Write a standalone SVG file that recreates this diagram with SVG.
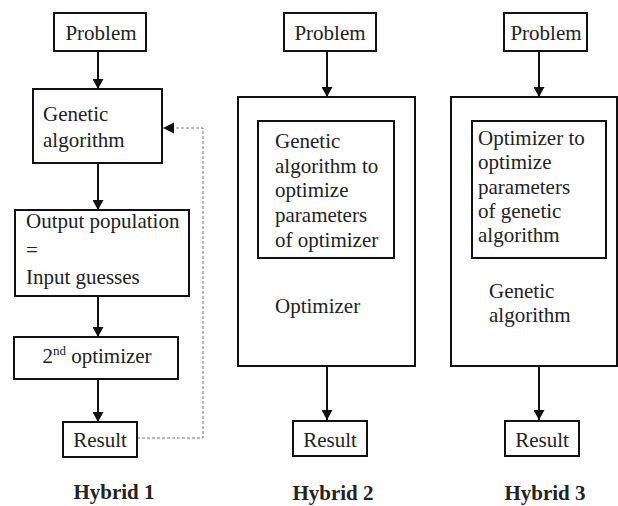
<svg xmlns="http://www.w3.org/2000/svg" width="618" height="506" viewBox="0 0 618 506">
<style>
  .box{fill:#fff;stroke:#111;stroke-width:2}
  .t{font-size:21px;fill:#222}
  .m{text-anchor:middle}
  .b{font-weight:bold;font-size:21px}
  .c{stroke:#111;stroke-width:2;fill:none}
  .d{stroke:#777;stroke-width:1;fill:none;stroke-dasharray:3 2}
</style>
<defs>
  <marker id="ah" markerUnits="userSpaceOnUse" markerWidth="10" markerHeight="11" refX="10" refY="5.5" orient="auto">
    <path d="M0,0 L10,5.5 L0,11 z" fill="#111"/>
  </marker>
</defs>
<rect width="618" height="506" fill="#fff"/>
<g id="connectors">
  <line class="c" x1="98" y1="51" x2="98" y2="89" marker-end="url(#ah)"/>
  <line class="c" x1="98" y1="163" x2="98" y2="210" marker-end="url(#ah)"/>
  <line class="c" x1="98" y1="296" x2="98" y2="337" marker-end="url(#ah)"/>
  <line class="c" x1="98" y1="379" x2="98" y2="422" marker-end="url(#ah)"/>
  <path class="d" d="M137,438 H203 V128 H173"/>
  <path d="M174,122.5 L163,128 L174,133.5 z" fill="#111"/>
  <line class="c" x1="327" y1="51" x2="327" y2="97" marker-end="url(#ah)"/>
  <line class="c" x1="327" y1="366" x2="327" y2="420" marker-end="url(#ah)"/>
  <line class="c" x1="539" y1="51" x2="539" y2="97" marker-end="url(#ah)"/>
  <line class="c" x1="539" y1="366" x2="539" y2="420" marker-end="url(#ah)"/>
</g>
<g font-family="Liberation Serif, Times New Roman, serif">
<g id="h1-problem">
  <rect class="box" x="54" y="13" width="92" height="38"/>
  <text class="t m" x="101" y="40">Problem</text>
</g>
<g id="h1-ga">
  <rect class="box" x="33" y="89" width="129" height="74"/>
  <text class="t" x="43" y="121">Genetic</text>
  <text class="t" x="43" y="147">algorithm</text>
</g>
<g id="h1-output">
  <rect class="box" x="15" y="210" width="174" height="86"/>
  <text class="t" x="26" y="228">Output population</text>
  <text class="t" x="26" y="257">=</text>
  <text class="t" x="26" y="284">Input guesses</text>
</g>
<g id="h1-opt2">
  <rect class="box" x="14" y="337" width="164" height="42"/>
  <text class="t m" x="97" y="363">2<tspan font-size="13" dy="-8">nd</tspan><tspan dy="8"> optimizer</tspan></text>
</g>
<g id="h1-result">
  <rect class="box" x="63" y="422" width="74" height="35"/>
  <text class="t m" x="100" y="447">Result</text>
</g>
<text class="t m b" x="114" y="499">Hybrid 1</text>

<g id="h2-problem">
  <rect class="box" x="284" y="13" width="92" height="38"/>
  <text class="t m" x="330" y="40">Problem</text>
</g>
<g id="h2-optimizer">
  <rect class="box" x="238" y="97" width="177" height="269"/>
  <text class="t" x="275" y="313">Optimizer</text>
</g>
<g id="h2-ga">
  <rect class="box" x="258" y="121" width="136" height="137"/>
  <text class="t" x="275" y="148">Genetic</text>
  <text class="t" x="275" y="173">algorithm to</text>
  <text class="t" x="275" y="197">optimize</text>
  <text class="t" x="275" y="222">parameters</text>
  <text class="t" x="275" y="247">of optimizer</text>
</g>
<g id="h2-result">
  <rect class="box" x="293" y="421" width="74" height="35"/>
  <text class="t m" x="330" y="447">Result</text>
</g>
<text class="t m b" x="333" y="500">Hybrid 2</text>

<g id="h3-problem">
  <rect class="box" x="504" y="13" width="83" height="38"/>
  <text class="t m" x="546" y="40">Problem</text>
</g>
<g id="h3-ga">
  <rect class="box" x="451" y="97" width="166" height="269"/>
  <text class="t" x="489" y="298">Genetic</text>
  <text class="t" x="489" y="322">algorithm</text>
</g>
<g id="h3-optimizer">
  <rect class="box" x="472" y="121" width="134" height="137"/>
  <text class="t" x="478" y="145">Optimizer to</text>
  <text class="t" x="478" y="169">optimize</text>
  <text class="t" x="478" y="194">parameters</text>
  <text class="t" x="478" y="218">of genetic</text>
  <text class="t" x="478" y="242">algorithm</text>
</g>
<g id="h3-result">
  <rect class="box" x="505" y="421" width="74" height="35"/>
  <text class="t m" x="542" y="447">Result</text>
</g>
<text class="t m b" x="545" y="500">Hybrid 3</text>
</g>
</svg>
